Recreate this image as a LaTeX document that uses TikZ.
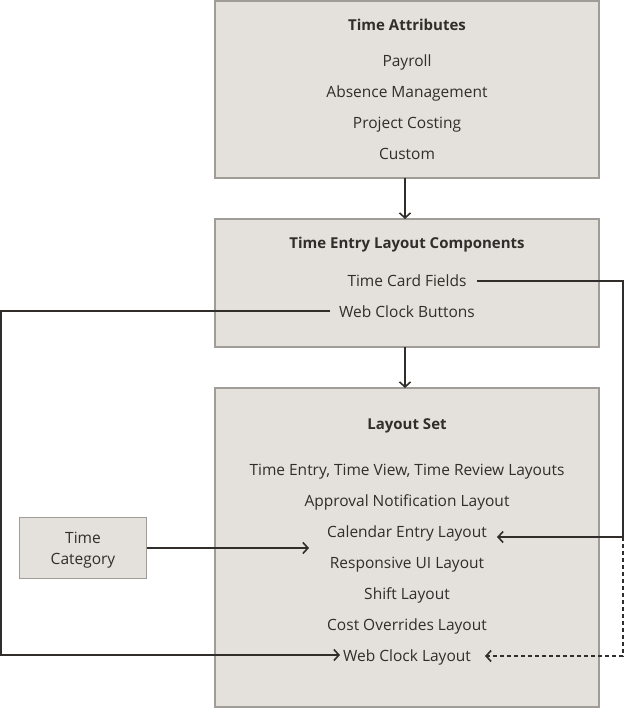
\documentclass[tikz,border=0pt]{standalone}
\usepackage{fontspec}
\setmainfont{Open Sans}
\usetikzlibrary{arrows.meta}
\definecolor{boxfill}{HTML}{E4E1DC}
\definecolor{boxline}{HTML}{A09D98}
\definecolor{ink}{HTML}{312D2A}
\begin{document}
\begin{tikzpicture}[x=1pt,y=-1pt,
  panel/.style={draw=boxline,fill=boxfill,line width=1.2pt},
  txt/.style={inner sep=0pt,anchor=base,text=ink,font=\fontsize{15.5}{18}\selectfont},
  hdr/.style={txt,font=\fontsize{15}{18}\selectfont\bfseries},
  conn/.style={draw=ink,line width=1.8pt},
  arr/.style={conn,-{Straight Barb[length=5pt,width=11pt,line width=1.6pt]}},
  darr/.style={arr,dash pattern=on 4pt off 3pt,line width=1.6pt}]
\useasboundingbox (0,0) rectangle (624,708);
% boxes
\path[panel] (215,1) rectangle (599,178);
\path[panel] (215,219) rectangle (599,347);
\path[panel] (215,388) rectangle (599,707);
\node[panel,minimum width=127pt,minimum height=61pt,inner sep=0pt,anchor=north west] (tc) at (19,517) {};
\coordinate (ta) at (405,178);
\coordinate (tlTop) at (405,219);
\coordinate (tlBot) at (405,347);
\coordinate (lsTop) at (405,388);
% texts
\node[hdr] (h1) at (407,31) {Time Attributes};
\node[txt] (p1) at (407,67) {Payroll};
\node[txt] (p2) at (407,98) {Absence Management};
\node[txt] (p3) at (407,129) {Project Costing};
\node[txt] (p4) at (407,160) {Custom};
\node[hdr] (h2) at (407,249) {Time Entry Layout Components};
\node[txt] (tcf) at (407,286) {Time Card Fields};
\node[txt] (wcb) at (407,317) {Web Clock Buttons};
\node[hdr] (h3) at (407,429) {Layout Set};
\node[txt] (l1) at (407,475) {Time Entry, Time View, Time Review Layouts};
\node[txt] (l2) at (407,506) {Approval Notification Layout};
\node[txt] (l3) at (407,537) {Calendar Entry Layout};
\node[txt] (l4) at (407,568) {Responsive UI Layout};
\node[txt] (l5) at (407,599) {Shift Layout};
\node[txt] (l6) at (407,630) {Cost Overrides Layout};
\node[txt] (l7) at (407,661) {Web Clock Layout};
\node[txt] (tct1) at (83,543) {Time};
\node[txt] (tct2) at (83,564) {Category};
% connectors
\coordinate (s1) at (477,281);
\coordinate (r1) at (623,281);
\coordinate (r2) at (623,537);
\coordinate (e1) at (497,537);
\coordinate (r3) at (623,656);
\coordinate (e2) at (485,656);
\coordinate (s2) at (330,311);
\coordinate (w1) at (1,311);
\coordinate (w2) at (1,655);
\coordinate (e3) at (340,655);
\coordinate (e4) at (309,548);
\draw[arr] (ta) -- (tlTop);
\draw[arr] (tlBot) -- (lsTop);
\draw[arr] (s1) -- (r1) -- (r2) -- (e1);
\draw[darr] (r2) -- (r3) -- (e2);
\draw[arr] (s2) -- (w1) -- (w2) -- (e3);
\draw[arr] (tc.east |- e4) -- (e4);
\end{tikzpicture}
\end{document}
